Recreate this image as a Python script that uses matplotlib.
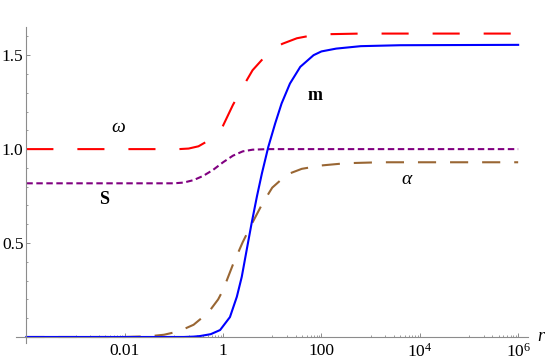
import numpy as np
import matplotlib
matplotlib.use('Agg')
import matplotlib.pyplot as plt
from matplotlib.ticker import NullFormatter

plt.rcParams['font.family'] = ['Liberation Serif', 'DejaVu Serif']
plt.rcParams['mathtext.fontset'] = 'custom'
plt.rcParams['mathtext.rm'] = 'Liberation Serif'
plt.rcParams['mathtext.it'] = 'Liberation Serif:italic'
plt.rcParams['mathtext.bf'] = 'Liberation Serif:bold'

# curves, x as log10(r)
omega_lx = [-4, -0.9, -0.7, -0.5, -0.3, -0.1, 0, 0.2, 0.4, 0.6, 0.8, 1.0, 1.2, 1.5, 1.8, 2.2, 2.8, 6]
omega_y = [1.0, 1.0, 1.003, 1.015, 1.045, 1.09, 1.125, 1.235, 1.33, 1.42, 1.478, 1.525, 1.56, 1.59, 1.605, 1.612, 1.615, 1.615]

m_lx = [-4, -0.8, -0.6, -0.47, -0.25, -0.06, 0.14, 0.28, 0.38, 0.48, 0.58, 0.69, 0.79, 0.92,
        1.06, 1.19, 1.36, 1.57, 1.84, 2.0, 2.3, 2.8, 3.6, 6]
m_y = [0, 0, 0.002, 0.005, 0.015, 0.037, 0.106, 0.214, 0.32, 0.463, 0.605, 0.75, 0.871, 1.012,
       1.137, 1.243, 1.349, 1.438, 1.50, 1.52, 1.535, 1.548, 1.553, 1.555]

s_lx = [-4, -1.0, -0.8, -0.6, -0.4, -0.2, 0, 0.2, 0.4, 0.6, 0.9, 6]
s_y = [0.818, 0.818, 0.822, 0.835, 0.858, 0.89, 0.93, 0.965, 0.988, 0.997, 1.0, 1.0]

alpha_lx = [-4, -2.0, -1.5, -1.2, -0.9, -0.6, -0.3, -0.1, 0, 0.2, 0.4, 0.6, 0.8, 1.0, 1.3, 1.6, 2.0, 2.5, 3.2, 6]
alpha_y = [0, 0, 0.004, 0.012, 0.03, 0.065, 0.13, 0.2, 0.25, 0.385, 0.505, 0.61, 0.71, 0.795, 0.865, 0.895, 0.913, 0.925, 0.93, 0.93]

xticks = [1e-2, 1, 1e2, 1e4, 1e6]
xticklabels = ['0.01', '1', '100', r'$10^{4}$', r'$10^{6}$']
yticks = [0.5, 1.0, 1.5]
yticklabels = ['0.5', '1.0', '1.5']

fig = plt.figure(figsize=(5.45, 3.64), dpi=100)
ax = fig.add_axes([16 / 545, 21 / 364, 512 / 545, 316 / 364])

def r(lx):
    return 10 ** np.array(lx, dtype=float)

ax.plot(r(omega_lx), omega_y, color='#ff0000', lw=1.5, dashes=(13, 11.5))
ax.plot(r(s_lx), s_y, color='#800080', lw=1.5, dashes=(3.1, 1.7))
ax.plot(r(alpha_lx), alpha_y, color='#996633', lw=1.5, dashes=(8.7, 6.7))
ax.plot(r(m_lx), m_y, color='#0000ff', lw=1.5)

ax.set_xscale('log')
ax.set_xlim(10 ** -4.21, 10 ** 6.2)
ax.set_ylim(-0.032, 1.65)

for side in ['top', 'right']:
    ax.spines[side].set_visible(False)
ax.spines['left'].set_position(('data', 1e-4))
ax.spines['bottom'].set_position(('data', 0))
for side in ['left', 'bottom']:
    ax.spines[side].set_color('#8c8c8c')
    ax.spines[side].set_linewidth(0.8)

ax.set_xticks(xticks)
ax.set_xticklabels(xticklabels)
minor_x = [k * 10.0 ** j for j in [-3, -1, 1, 3, 5] for k in range(1, 10)]
ax.set_xticks(minor_x, minor=True)
ax.xaxis.set_minor_formatter(NullFormatter())
ax.set_yticks(yticks)
ax.set_yticklabels(yticklabels)
ax.set_yticks([0.1, 0.2, 0.3, 0.4, 0.6, 0.7, 0.8, 0.9, 1.1, 1.2, 1.3, 1.4, 1.6], minor=True)

ax.tick_params(which='both', direction='in', color='#8c8c8c', labelsize=12.5)
ax.tick_params(which='major', length=3, width=0.7)
ax.tick_params(which='minor', length=1.6, width=0.6)
ax.tick_params(axis='x', which='major', pad=4)
ax.tick_params(axis='y', which='major', pad=2)

ax.text(10 ** 6.45, 0, 'r', style='italic', fontsize=13, ha='center', va='center', clip_on=False)
ax.text(10 ** -2.14, 1.117, 'ω', style='italic', fontsize=14, ha='center', va='center')
ax.text(10 ** -2.42, 0.734, 'S', weight='bold', fontsize=13, ha='center', va='center')
ax.text(10 ** 1.87, 1.287, 'm', weight='bold', fontsize=13, ha='center', va='center')
ax.text(10 ** 3.74, 0.84, 'α', style='italic', fontsize=14, ha='center', va='center')

fig.savefig('out.png', dpi=100)
